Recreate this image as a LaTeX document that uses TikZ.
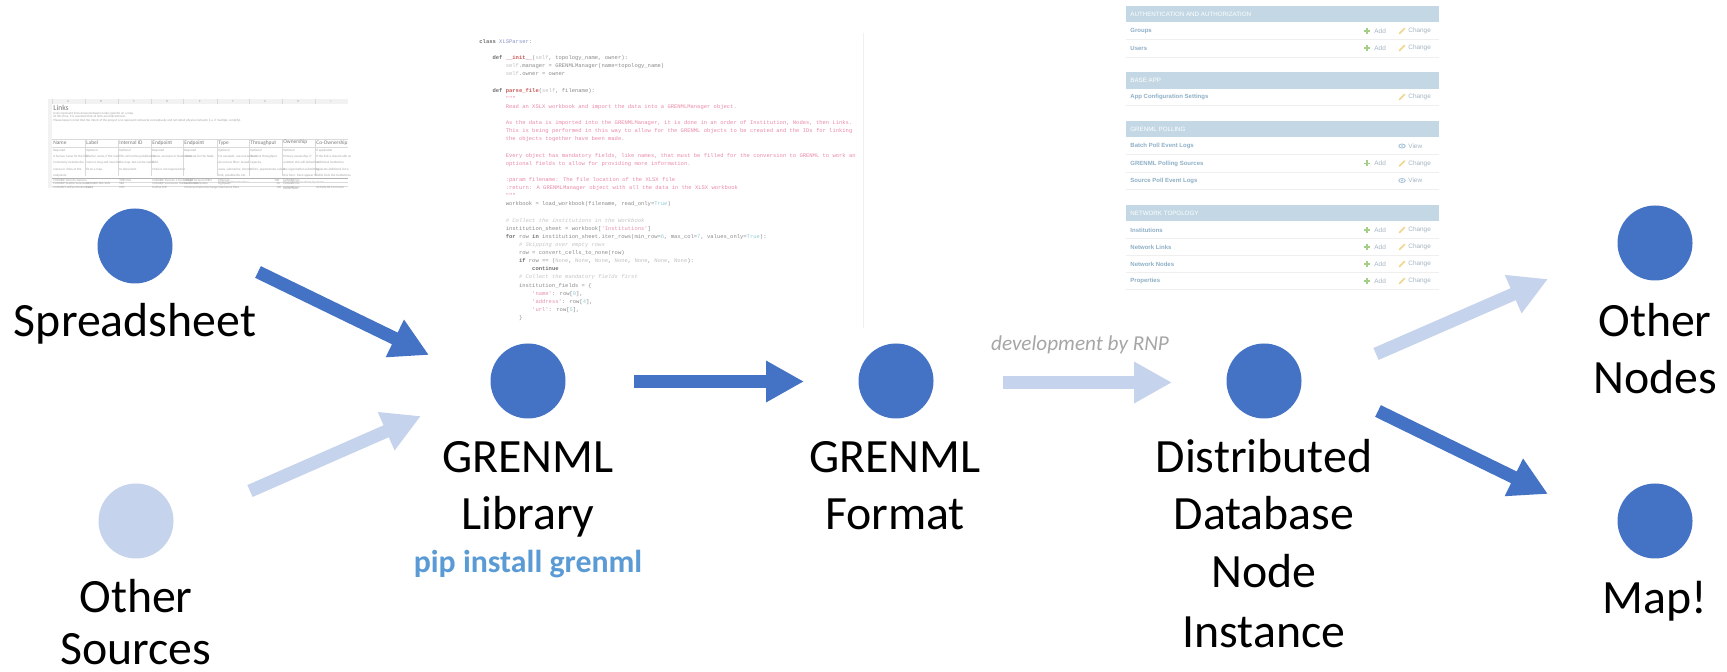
\documentclass[tikz,border=0pt]{standalone}
\usepackage{fontspec}
\setmainfont{Carlito}
\newfontfamily\codemono{Liberation Mono}
\newfontfamily\adminsans{Liberation Sans}
\usetikzlibrary{arrows.meta}
\definecolor{dkblue}{HTML}{4472C4}
\definecolor{ltblue}{HTML}{C5D3EC}
\definecolor{pipblue}{HTML}{5B9BD5}
\definecolor{devgray}{HTML}{A6A6A6}
\definecolor{codekw}{HTML}{707070}
\definecolor{codefn}{HTML}{C85A5A}
\definecolor{codecls}{HTML}{8A93C8}
\definecolor{codesel}{HTML}{C0C0C0}
\definecolor{codetxt}{HTML}{8A8A8A}
\definecolor{codedoc}{HTML}{EA8AA5}
\definecolor{codecom}{HTML}{C5C5C5}
\definecolor{codestr}{HTML}{E890AE}
\definecolor{codenum}{HTML}{90CDD8}
\definecolor{admbar}{HTML}{C3D8E4}
\definecolor{admlabel}{HTML}{8EAFC6}
\definecolor{admtxt}{HTML}{A5B5C2}
\definecolor{admgreen}{HTML}{A5CF86}
\definecolor{admyellow}{HTML}{F0D58A}
\definecolor{admsep}{HTML}{EFEFEF}
\definecolor{admeye}{HTML}{A9C4DA}
\definecolor{ssgrid}{HTML}{DADADA}
\definecolor{sstxt}{HTML}{A0A0A0}
\definecolor{sshead}{HTML}{7A7A7A}
\newcommand{\mykw}[1]{\textcolor{codekw}{\bfseries #1}}
\newcommand{\myfn}[1]{\textcolor{codefn}{\bfseries #1}}
\newcommand{\mycls}[1]{\textcolor{codecls}{#1}}
\newcommand{\mysel}[1]{\textcolor{codesel}{#1}}
\newcommand{\mydoc}[1]{\textcolor{codedoc}{#1}}
\newcommand{\mycom}[1]{\textcolor{codecom}{\itshape #1}}
\newcommand{\mystr}[1]{\textcolor{codestr}{#1}}
\newcommand{\mynum}[1]{\textcolor{codenum}{#1}}
\newcommand{\admAddChange}[2]{%
  \draw[admplus] (1364,#1) -- (1370,#1) (1367,{#1-3}) -- (1367,{#1+3});
  \node[admside] (#2a) at (1374,#1) {Add};
  \draw[admpen] (1399.5,{#1+2.5}) -- (1404.5,{#1-2.5});
  \node[admside] (#2c) at (1408,#1) {Change};}
\newcommand{\admChangeOnly}[2]{%
  \draw[admpen] (1399.5,{#1+2.5}) -- (1404.5,{#1-2.5});
  \node[admside] (#2c) at (1408,#1) {Change};}
\newcommand{\admView}[2]{%
  \draw[admeye, line width=0.45pt] (1402,#1) ellipse (3.2 and 2);
  \fill[admeye] (1402,#1) circle (1);
  \node[admside] (#2v) at (1408,#1) {View};}
\begin{document}
\begin{tikzpicture}[x=0.5pt, y=-0.5pt,
  dot/.style={circle, minimum size=37.5pt, inner sep=0pt, fill=dkblue, draw=none},
  dotlt/.style={dot, fill=ltblue},
  lbl/.style={anchor=base, inner sep=0pt, font=\fontsize{23.9pt}{28pt}\selectfont},
  darrow/.style={draw=dkblue, line width=6.5pt, -{Triangle[width=19.5pt,length=19pt]}},
  larrow/.style={draw=ltblue, line width=6.5pt, -{Triangle[width=19.5pt,length=19pt]}},
  codeln/.style={anchor=base west, inner sep=0pt, font=\codemono\fontsize{2.75pt}{3.3pt}\selectfont, text=codetxt},
  admhead/.style={anchor=west, inner sep=0pt, font=\adminsans\fontsize{3.1pt}{3.5pt}\selectfont, text=white},
  admrow/.style={anchor=west, inner sep=0pt, font=\adminsans\bfseries\fontsize{3.0pt}{3.5pt}\selectfont, text=admlabel},
  admside/.style={anchor=west, inner sep=0pt, font=\adminsans\fontsize{3.2pt}{3.5pt}\selectfont, text=admtxt},
  admplus/.style={draw=admgreen, line width=0.6pt},
  admpen/.style={draw=admyellow, line width=0.8pt, line cap=round},
  admsep/.style={draw=admsep, line width=0.4pt},
  sscell/.style={anchor=base west, inner sep=0pt, font=\fontsize{1.6pt}{1.9pt}\selectfont, text=sstxt},
  sshd/.style={anchor=base west, inner sep=0pt, font=\fontsize{2.7pt}{3pt}\selectfont, text=sshead},
  ssline/.style={draw=ssgrid, line width=0.2pt}
]
\useasboundingbox[fill=white] (0,0) rectangle (1727,672);

%% ---------------- Spreadsheet screenshot ----------------
\fill[black!5] (48,99) rectangle (348,104);
\fill[black!5] (48,104) rectangle (52,188);
\foreach \cx in {52,85,118,151,183,217,249,282,315}{\draw[ssline] (\cx,99) -- (\cx,104);}
\foreach \cx/\cl [count=\ci] in {68/A,101/B,134/C,167/D,200/E,233/F,265/G,298/H,331/I}{
  \node[sscell, anchor=base, font=\fontsize{1.6pt}{1.8pt}\selectfont] (colL\ci) at (\cx,102.8) {\cl};}
\node[sshd, font=\fontsize{3.8pt}{4pt}\selectfont] (ssTitle) at (53,110.5) {Links};
\node[sscell] (ssN1) at (53,114.5) {Links represent lines drawn between nodes (points) on a map.};
\node[sscell] (ssN2) at (53,118) {At this time, it is assumed that all links are bidirectional.};
\node[sscell] (ssN3) at (53,121.5) {Please keep in mind that the intent of the project is to represent networks conceptually and not detail physical network (i.e. if multiple, simplify).};
\draw[ssline] (52,139.5) -- (348,139.5);
\draw[ssline] (52,147) -- (348,147);
\foreach \cx in {85,118,151,183,217,249,282,315}{\draw[ssline] (\cx,139.5) -- (\cx,176);}
\node[sshd] (ssH1) at (53,145) {Name};
\node[sshd] (ssH2) at (86,145) {Label};
\node[sshd] (ssH3) at (119,145) {Internal ID};
\node[sshd] (ssH4) at (152,145) {Endpoint};
\node[sshd] (ssH5) at (184,145) {Endpoint};
\node[sshd] (ssH6) at (218,145) {Type};
\node[sshd] (ssH7) at (250,145) {Throughput};
\node[sshd] (ssH8) at (283,144) {Ownership};
\node[sshd] (ssH9) at (316,145) {Co-Ownership};
\node[sscell, align=left, anchor=north west, font=\fontsize{1.6pt}{3.2pt}\selectfont] (ssD1) at (53,148.5) {Required\\A human name for the link.\\Commonly includes the\\names or cities at the\\endpoints.};
\node[sscell, align=left, anchor=north west, font=\fontsize{1.6pt}{3.2pt}\selectfont] (ssD2) at (86,148.5) {Optional\\Shorter name, if the main\\name is long and must be\\fit on a map.};
\node[sscell, align=left, anchor=north west, font=\fontsize{1.6pt}{3.2pt}\selectfont] (ssD3) at (119,148.5) {Optional\\This will not be published in\\the map, but can be useful\\to document.};
\node[sscell, align=left, anchor=north west, font=\fontsize{1.6pt}{3.2pt}\selectfont] (ssD4) at (152,148.5) {Required\\Name, acronym or Node name\\field.\\Chain is not required to b};
\node[sscell, align=left, anchor=north west, font=\fontsize{1.6pt}{3.2pt}\selectfont] (ssD5) at (184,148.5) {Required\\Alternate for the Node};
\node[sscell, align=left, anchor=north west, font=\fontsize{1.6pt}{3.2pt}\selectfont] (ssD6) at (218,148.5) {Optional\\For example: use one term or\\do not use filter: leased\\wave, submarine, interch.\\fork, possible tbc etc.\\leverage determination};
\node[sscell, align=left, anchor=north west, font=\fontsize{1.6pt}{3.2pt}\selectfont] (ssD7) at (250,148.5) {Optional\\Nominal throughput\\capacity.\\Gbit/s, approximate values};
\node[sscell, align=left, anchor=north west, font=\fontsize{1.6pt}{3.2pt}\selectfont] (ssD8) at (283,148.5) {Optional\\Primary ownership. If\\omitted, this will default to\\the organization submitting\\this form. Must appear in\\the Institutions sheet, by\\Name field.};
\node[sscell, align=left, anchor=north west, font=\fontsize{1.6pt}{3.2pt}\selectfont] (ssD9) at (316,148.5) {If applicable\\If the link is shared with an\\additional Institution,\\separate additional list w\\fields from the Institutions\\sheet.};
\draw[draw=black!30, line width=0.3pt] (52,178.8) -- (348,178.8);
\draw[ssline] (52,182.3) -- (348,182.3);
\draw[ssline] (52,185.8) -- (348,185.8);
\node[sscell] (ssR1a) at (53,181.5) {CANARIE Toronto-Geneva};
\node[sscell] (ssR1b) at (119,181.5) {TOR-GVA};
\node[sscell] (ssR1c) at (152,181.5) {CANARIE Toronto 1 Front Street};
\node[sscell] (ssR1d) at (184,181.5) {GEANT Geneva CERN};
\node[sscell] (ssR1e) at (218,181.5) {Ethernet};
\node[sscell] (ssR1f) at (274,181.5) {100};
\node[sscell] (ssR1g) at (283,181.5) {CANARIE Inc.};
\node[sscell] (ssR2a) at (53,185) {CANARIE Seattle-Vancouver};
\node[sscell] (ssR2b) at (86,185) {CANARIE SEA-VAN};
\node[sscell] (ssR2c) at (119,185) {SEA};
\node[sscell] (ssR2d) at (152,185) {CANARIE Vancouver Harbour Centre};
\node[sscell] (ssR2e) at (184,185) {Pacific NW Seattle};
\node[sscell] (ssR2f) at (218,185) {Lightpath};
\node[sscell] (ssR2g) at (276,185) {10};
\node[sscell] (ssR2h) at (283,185) {CANARIE Inc.};
\node[sscell] (ssR3a) at (53,188.4) {CANARIE Halifax-Montreal Link};
\node[sscell] (ssR3b) at (86,188.4) {HAL};
\node[sscell] (ssR3c) at (119,188.4) {MTL};
\node[sscell] (ssR3d) at (152,188.4) {Halifax POP};
\node[sscell] (ssR3e) at (184,188.4) {Montreal Cabot Exchange};
\node[sscell] (ssR3f) at (218,188.4) {Submarine fibre};
\node[sscell] (ssR3g) at (276,188.4) {100};
\node[sscell] (ssR3h) at (283,188.4) {CANARIE Inc.};
\node[sscell] (ssR3i) at (316,188.4) {ACORN-NS Co-Owner};

%% ---------------- Code screenshot ----------------
\draw[draw=black!6, line width=0.4pt] (863,33) -- (863,328);
\node[codeln] (c0)  at (479,43.5)   {\mykw{class} \mycls{XLSParser}:};
\node[codeln] (c2)  at (492.2,59.7) {\mykw{def} \myfn{\_\_init\_\_}(\mysel{self}, topology\_name, owner):};
\node[codeln] (c3)  at (505.4,67.9) {\mysel{self}.manager = GRENMLManager(name=topology\_name)};
\node[codeln] (c4)  at (505.4,76.0) {\mysel{self}.owner = owner};
\node[codeln] (c6)  at (492.2,92.2) {\mykw{def} \myfn{parse\_file}(\mysel{self}, filename):};
\node[codeln] (c7)  at (505.4,100.3) {\mydoc{"""}};
\node[codeln] (c8)  at (505.4,108.5) {\mydoc{Read an XSLX workbook and import the data into a GRENMLManager object.}};
\node[codeln] (c10) at (505.4,124.7) {\mydoc{As the data is imported into the GRENMLManager, it is done in an order of Institution, Nodes, then Links.}};
\node[codeln] (c11) at (505.4,132.8) {\mydoc{This is being performed in this way to allow for the GRENML objects to be created and the IDs for linking}};
\node[codeln] (c12) at (505.4,140.9) {\mydoc{the objects together have been made.}};
\node[codeln] (c14) at (505.4,157.2) {\mydoc{Every object has mandatory fields, like names, that must be filled for the conversion to GRENML to work an}};
\node[codeln] (c15) at (505.4,165.3) {\mydoc{optional fields to allow for providing more information.}};
\node[codeln] (c17) at (505.4,181.5) {\mydoc{:param filename: The file location of the XLSX file}};
\node[codeln] (c18) at (505.4,189.7) {\mydoc{:return: A GRENMLManager object with all the data in the XLSX workbook}};
\node[codeln] (c19) at (505.4,197.8) {\mydoc{"""}};
\node[codeln] (c20) at (505.4,205.9) {workbook = load\_workbook(filename, read\_only=\mynum{True})};
\node[codeln] (c22) at (505.4,222.1) {\mycom{\# Collect the institutions in the Workbook}};
\node[codeln] (c23) at (505.4,230.3) {institution\_sheet = workbook[\mystr{'Institutions'}]};
\node[codeln] (c24) at (505.4,238.4) {\mykw{for} row \mykw{in} institution\_sheet.iter\_rows(min\_row=\mynum{6}, max\_col=\mynum{7}, values\_only=\mynum{True}):};
\node[codeln] (c25) at (518.6,246.5) {\mycom{\# Skipping over empty rows}};
\node[codeln] (c26) at (518.6,254.6) {row = convert\_cells\_to\_none(row)};
\node[codeln] (c27) at (518.6,262.7) {\mykw{if} row == (\mysel{None}, \mysel{None}, \mysel{None}, \mysel{None}, \mysel{None}, \mysel{None}, \mysel{None}):};
\node[codeln] (c28) at (531.8,270.9) {\mykw{continue}};
\node[codeln] (c29) at (518.6,279.0) {\mycom{\# Collect the mandatory fields first}};
\node[codeln] (c30) at (518.6,287.1) {institution\_fields = \{};
\node[codeln] (c31) at (531.8,295.2) {\mystr{'name'}: row[\mynum{0}],};
\node[codeln] (c32) at (531.8,303.3) {\mystr{'address'}: row[\mynum{4}],};
\node[codeln] (c33) at (531.8,311.5) {\mystr{'url'}: row[\mynum{5}],};
\node[codeln] (c34) at (518.6,319.6) {\}};

%% ---------------- Admin screenshot ----------------
\fill[admbar] (1126,6) rectangle (1439,22);
\node[admhead] (hA) at (1130,14) {AUTHENTICATION AND AUTHORIZATION};
\node[admrow] (rGroups) at (1130,31) {Groups};
\admAddChange{31}{rGroups}
\draw[admsep] (1126,39) -- (1439,39);
\node[admrow] (rUsers) at (1130,48) {Users};
\admAddChange{48}{rUsers}
\draw[admsep] (1126,57) -- (1439,57);

\fill[admbar] (1126,72) rectangle (1439,89);
\node[admhead] (hB) at (1130,80.5) {BASE APP};
\node[admrow] (rApp) at (1130,97) {App Configuration Settings};
\admChangeOnly{97}{rApp}
\draw[admsep] (1126,105) -- (1439,105);

\fill[admbar] (1126,121) rectangle (1439,137);
\node[admhead] (hC) at (1130,129) {GRENML POLLING};
\node[admrow] (rBatch) at (1130,146) {Batch Poll Event Logs};
\admView{146}{rBatch}
\draw[admsep] (1126,154) -- (1439,154);
\node[admrow] (rPoll) at (1130,163.5) {GRENML Polling Sources};
\admAddChange{163.5}{rPoll}
\draw[admsep] (1126,172) -- (1439,172);
\node[admrow] (rSrc) at (1130,180.5) {Source Poll Event Logs};
\admView{180.5}{rSrc}
\draw[admsep] (1126,189) -- (1439,189);

\fill[admbar] (1126,205) rectangle (1439,221);
\node[admhead] (hD) at (1130,213) {NETWORK TOPOLOGY};
\node[admrow] (rInst) at (1130,230) {Institutions};
\admAddChange{230}{rInst}
\draw[admsep] (1126,238) -- (1439,238);
\node[admrow] (rLinks) at (1130,247) {Network Links};
\admAddChange{247}{rLinks}
\draw[admsep] (1126,255) -- (1439,255);
\node[admrow] (rNodes) at (1130,264) {Network Nodes};
\admAddChange{264}{rNodes}
\draw[admsep] (1126,272) -- (1439,272);
\node[admrow] (rProps) at (1130,281) {Properties};
\admAddChange{281}{rProps}
\draw[admsep] (1126,289) -- (1439,289);

%% ---------------- Main flow ----------------
\node[dot]   (spread) at (135,246) {};
\node[dotlt] (other)  at (136,521) {};
\node[dot]   (lib)    at (528,381) {};
\node[dot]   (fmt)    at (896,381) {};
\node[dot]   (ddb)    at (1264,381) {};
\node[dot]   (onodes) at (1655,243) {};
\node[dot]   (map)    at (1655,521) {};

\node[lbl] (tSpread)  at (135,337) {Spreadsheet};
\node[lbl] (tOther1)  at (136,612) {Other};
\node[lbl, text depth=0pt] (tOther2)  at (136,664) {Sources};
\node[lbl] (tLib1)    at (528,473) {GRENML};
\node[lbl] (tLib2)    at (528,530) {Library};
\node[anchor=base, inner sep=0pt, text=pipblue, font=\bfseries\fontsize{15.9pt}{18pt}\selectfont] (tPip) at (528,573) {pip install grenml};
\node[lbl] (tFmt1)    at (895,473) {GRENML};
\node[lbl] (tFmt2)    at (895,530) {Format};
\node[lbl] (tDdb1)    at (1264,473) {Distributed};
\node[lbl] (tDdb2)    at (1264,530) {Database};
\node[lbl] (tDdb3)    at (1264,588) {Node};
\node[lbl] (tDdb4)    at (1264,647) {Instance};
\node[lbl] (tON1)     at (1655,337) {Other};
\node[lbl] (tON2)     at (1655,394) {Nodes};
\node[lbl] (tMap)     at (1655,613) {Map!};
\node[anchor=base, inner sep=0pt, text=devgray, font=\itshape\fontsize{10.6pt}{12pt}\selectfont] (tDev) at (1080,351) {development by RNP};

\coordinate (a1s) at (258,272);  \coordinate (a1e) at (429,355);
\coordinate (a2s) at (250,491);  \coordinate (a2e) at (421,416);
\coordinate (a3s) at (634,381.5);\coordinate (a3e) at (804,381.5);
\coordinate (a4s) at (1003,382.5);\coordinate (a4e) at (1172,382.5);
\coordinate (a5s) at (1376,354); \coordinate (a5e) at (1548,279);
\coordinate (a6s) at (1378,411); \coordinate (a6e) at (1548,494);
\draw[darrow] (a1s) -- (a1e);
\draw[larrow] (a2s) -- (a2e);
\draw[darrow] (a3s) -- (a3e);
\draw[larrow] (a4s) -- (a4e);
\draw[larrow] (a5s) -- (a5e);
\draw[darrow] (a6s) -- (a6e);
\end{tikzpicture}
\end{document}
